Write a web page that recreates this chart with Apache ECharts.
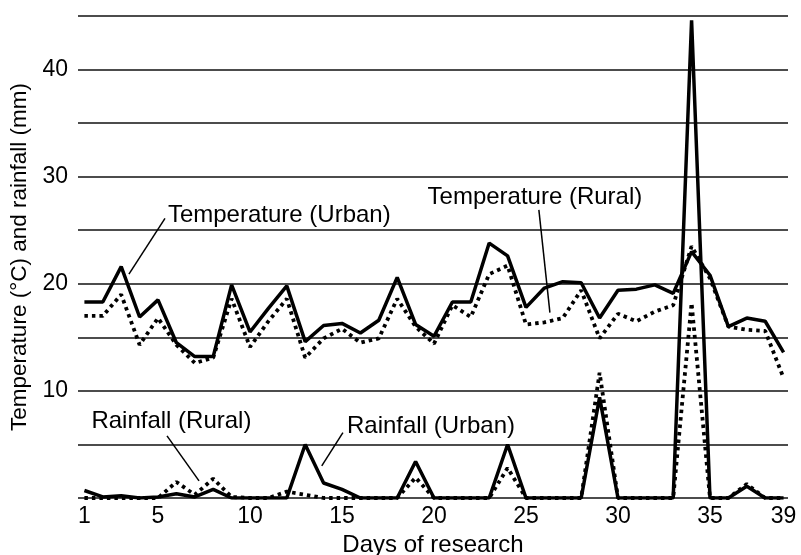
<!DOCTYPE html>
<html>
<head>
<meta charset="utf-8">
<script src="https://cdn.jsdelivr.net/npm/echarts@6/dist/echarts.min.js"></script>
<style>html,body{margin:0;padding:0;background:#fff}#c{width:801px;height:555px}</style>
</head>
<body>
<div id="c"></div>
<script>
var days = [1,2,3,4,5,6,7,8,9,10,11,12,13,14,15,16,17,18,19,20,21,22,23,24,25,26,27,28,29,30,31,32,33,34,35,36,37,38,39];
var tempUrban = [18.3,18.3,21.6,16.9,18.5,14.5,13.2,13.2,19.9,15.5,17.7,19.8,14.6,16.1,16.3,15.4,16.6,20.6,16.2,15.1,18.3,18.3,23.8,22.6,17.8,19.6,20.2,20.1,16.8,19.4,19.5,19.9,19.1,23.0,20.8,16.0,16.8,16.5,13.6];
var tempRural = [17.0,17.0,19.0,14.3,16.8,14.3,12.6,13.1,18.6,14.1,16.5,18.6,13.1,14.9,15.8,14.5,14.9,18.6,16.0,14.4,18.0,16.9,20.9,21.7,16.2,16.4,16.8,19.4,14.9,17.2,16.5,17.4,18.0,23.5,20.5,16.0,15.7,15.6,11.2];
var rainUrban = [0.7,0.1,0.2,0,0.1,0.4,0.1,0.8,0,0,0,0,5.0,1.4,0.8,0,0,0,3.4,0,0,0,0,5.0,0,0,0,0,9.4,0,0,0,0,44.6,0,0,1.1,0,0];
var rainRural = [0,0,0,0,0,1.5,0.3,1.8,0.1,0,0,0.6,0.3,0,0,0,0,0,1.9,0,0,0,0,2.8,0,0,0,0,11.7,0,0,0,0,18.2,0,0,1.3,0,0];
var xTickLabels = [1,5,10,15,20,25,30,35,39];
var yTickLabels = [10,20,30,40];
var annText = ['Temperature (Urban)','Temperature (Rural)','Rainfall (Rural)','Rainfall (Urban)'];
var annTextPos = [[5.54,26.4],[19.65,28.1],[1.38,7.2],[15.27,6.65]];
var annLineFrom = [[5.38,26.1],[25.7,26.9],[5.49,5.8],[15.05,6.1]];
var annLineTo = [[3.42,20.9],[26.3,17.3],[7.23,1.6],[13.9,3.0]];

function pairs(vals){ return days.map(function(d,i){ return [d, vals[i]]; }); }

var chart = echarts.init(document.getElementById('c'));
var FONT = 'Liberation Sans, Arial, sans-serif';
var solid = {color:'#000', width:3.5, type:'solid'};
var dotted = {color:'#000', width:3.8, type:[3.5,4]};
chart.setOption({
  animation:false,
  backgroundColor:'#fff',
  grid:{left:78, right:13, top:16, bottom:57, containLabel:false, outerBoundsMode:'none'},
  xAxis:{
    type:'value', min:0.652, max:39.24,
    name:'Days of research', nameLocation:'middle', nameGap:34,
    nameTextStyle:{color:'#000', fontSize:24, fontFamily:FONT},
    axisLine:{show:false}, axisTick:{show:false}, splitLine:{show:false},
    axisLabel:{customValues:xTickLabels, color:'#000', fontSize:23, fontFamily:FONT, margin:7}
  },
  yAxis:{
    type:'value', min:0, max:45, interval:5,
    name:'Temperature (°C) and rainfall (mm)', nameLocation:'middle', nameGap:46,
    nameTextStyle:{color:'#000', fontSize:22.5, fontFamily:FONT},
    axisLine:{show:false}, axisTick:{show:false},
    splitLine:{show:true, lineStyle:{color:'#111', width:1.5}},
    axisLabel:{color:'#000', fontSize:23, fontFamily:FONT, margin:10,
      formatter:function(v){ return yTickLabels.indexOf(v)>=0 ? String(v) : ''; }}
  },
  series:[
    {name:'Temperature (Urban)', type:'line', data:pairs(tempUrban), symbol:'none', lineStyle:solid, z:3},
    {name:'Rainfall (Urban)', type:'line', data:pairs(rainUrban), symbol:'none', lineStyle:solid, z:3},
    {name:'Temperature (Rural)', type:'line', data:pairs(tempRural), symbol:'none', lineStyle:dotted, z:4},
    {name:'Rainfall (Rural)', type:'line', data:pairs(rainRural), symbol:'none', lineStyle:dotted, z:4}
  ]
});

var g = [];
for (var i=0;i<annText.length;i++){
  var tp = chart.convertToPixel({gridIndex:0}, annTextPos[i]);
  var a = chart.convertToPixel({gridIndex:0}, annLineFrom[i]);
  var b = chart.convertToPixel({gridIndex:0}, annLineTo[i]);
  g.push({type:'text', x:tp[0], y:tp[1], z:10,
    style:{text:annText[i], fill:'#000', font:'24px '+FONT, verticalAlign:'middle', align:'left'}});
  g.push({type:'line', z:10, shape:{x1:a[0],y1:a[1],x2:b[0],y2:b[1]}, style:{stroke:'#000', lineWidth:1.5}});
}
chart.setOption({graphic:g});
</script>
</body>
</html>
